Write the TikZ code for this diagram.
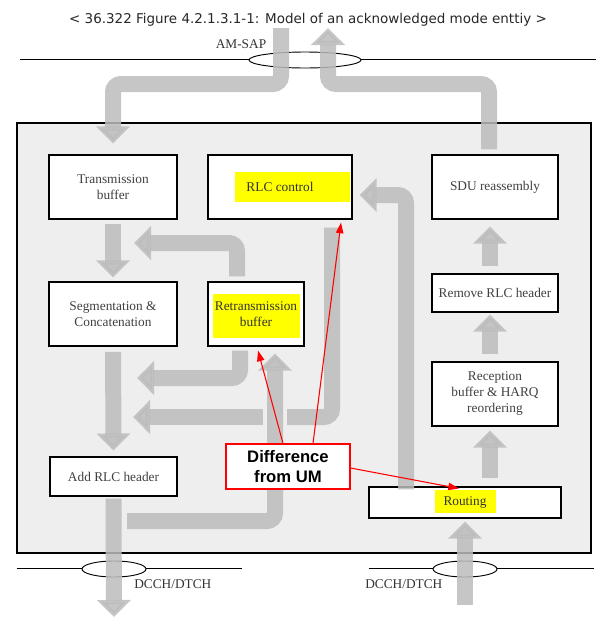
\documentclass[tikz,border=0pt]{standalone}
\usepackage{fontspec}
\setmainfont{Liberation Serif}
\newfontfamily\titlefont{DejaVu Sans}
\newfontfamily\notefont{Liberation Sans}
\usetikzlibrary{arrows.meta,calc,positioning}
\definecolor{framefill}{HTML}{EEEEEE}
\definecolor{arrowgray}{HTML}{BCBCBC}
\definecolor{hilite}{HTML}{FFFF00}
\tikzset{
  box/.style={draw, fill=white, line width=0.8pt, inner sep=0pt, align=center,
    font=\fontsize{10}{12}\selectfont, text=black!75},
  boxtext/.style={inner sep=0pt, align=center, font=\fontsize{10}{12}\selectfont, text=black!80},
  bigband/.style={draw=arrowgray, line width=12pt, opacity=0.85, rounded corners=6pt},
  bigarrow/.style={bigband, -{Triangle[length=12.75pt,width=24.75pt]}},
  note/.style={red, line width=0.8pt, -{Triangle[length=8pt,width=5.5pt]}},
  sap/.style={line width=0.7pt},
}

\begin{document}
\begin{tikzpicture}[x=0.75pt,y=-0.75pt]
    \useasboundingbox (0,0) rectangle (607,625);

    % Title
    \node[font=\titlefont\fontsize{10.1}{12}\selectfont, text=black!85] (title) at (308,20)
        {< 36.322 Figure 4.2.1.3.1-1: Model of an acknowledged mode enttiy >};

    % Service access points
    \draw[sap] (20,59) -- (249,59) (361,59) -- (596,59);
    \draw[sap] (305,60) ellipse [x radius=56, y radius=8];
    \draw[sap] (17,568) -- (82,568) (146,568) -- (242,568);
    \draw[sap] (114,569) ellipse [x radius=32, y radius=8];
    \draw[sap] (369,568) -- (433,568) (497,568) -- (594,568);
    \draw[sap] (465,569) ellipse [x radius=32, y radius=8];
    \node[boxtext] (amsap) at (241,44) {AM-SAP};
    \node[boxtext, anchor=west] (dcchl) at (134,584) {DCCH/DTCH};
    \node[boxtext, anchor=west] (dcchr) at (365,584) {DCCH/DTCH};

    % Entity
    \draw[fill=framefill, line width=0.8pt] (17,123) rectangle (591,553);

    % Transmitting side
    \node[box, minimum width=96pt, minimum height=48pt] (tx) at (113,187) {Transmission\\buffer};
    \node[box, minimum width=108pt, minimum height=48pt] (rlc) at (280,187) {};
    \node[box, minimum width=96pt, minimum height=48pt] (seg) at (113,314) {Segmentation \&\\Concatenation};
    \node[box, minimum width=72pt, minimum height=48pt] (retx) at (256,314) {};
    \node[box, minimum width=95.25pt, minimum height=29.25pt] (add) at (113.5,476.5) {Add RLC header};

    % Receiving side
    \node[box, minimum width=94.5pt, minimum height=48pt] (sdu) at (495,187) {SDU reassembly};
    \node[box, minimum width=94.5pt, minimum height=28.5pt] (rem) at (495,293) {Remove RLC header};
    \node[box, minimum width=94.5pt, minimum height=48pt] (recv) at (495,394) {Reception\\buffer \& HARQ\\reordering};
    \node[box, minimum width=144pt, minimum height=23.25pt] (route) at (465,502.5) {};

    % Highlights
    \fill[hilite] (235,172) rectangle (350,202);
    \fill[hilite] (213,294) rectangle (300,338);
    \fill[hilite] (435,490) rectangle (496,513);
    \node[boxtext] (rlctext) at (rlc) {RLC control};
    \node[boxtext] (retxtext) at (retx) {Retransmission\\buffer};
    \node[boxtext] (routetext) at (route) {Routing};

    % Free ends
    \coordinate (sapdown) at (281,28);
    \coordinate (sapup) at (328,28);
    \coordinate (chout) at (114,617);
    \coordinate (chin) at (465,605);

    % Data flow
    \draw[bigarrow] (sapdown) -- (281,84) -| ($(tx.north)+(0,-11)$);
    \draw[bigarrow] ($(sdu.north)+(-6,-5)$) -- (489,84) -| (sapup);
    \draw[bigarrow, shorten <=3pt, shorten >=3pt] (tx) -- (seg);
    \draw[bigarrow, shorten <=4pt, shorten >=4.5pt] (seg) -- (add);
    \draw[bigarrow] ($(add.south)+(0,2)$) -- (chout);
    \draw[bigarrow] ($(retx.north)+(-19,-5)$) |- (134,243);
    \draw[bigarrow] ($(retx.south)+(-16,4)$) |- (137,378);
    \draw[bigband] ($(rlc.south)+(52,8)$) |- (287,417);
    \draw[bigarrow] (263,417) -- (133,417);
    \draw[bigarrow] (127,521) -| ($(retx.south)+(19,7)$);
    \draw[bigarrow] ($(route.north)+(-59,3)$) |- ($(rlc.east)+(7,8)$);
    \draw[bigarrow] (chin) -- ($(route.south)+(0,3)$);
    \draw[bigarrow] ($(recv.south)+(-5,51)$) -- ($(recv.south)+(-5,4)$);
    \draw[bigarrow] ($(recv.north)+(-5,-7)$) -- ($(rem.south)+(-5,2)$);
    \draw[bigarrow] ($(rem.north)+(-5,-7)$) -- ($(sdu.south)+(-5,7)$);

    % Difference from UM
    \node[draw=red, fill=white, line width=0.8pt, minimum width=93pt, minimum height=33.75pt,
        align=center, font=\notefont\bfseries\fontsize{12.5}{14.5}\selectfont] (diff) at (288,466.5)
        {Difference\\from UM};
    \draw[note] ($(diff.north)+(-5,0)$) -- ($(retx.south)+(2,4)$);
    \draw[note] ($(diff.north)+(25,0)$) -- ($(rlc.south)+(61,3)$);
    \draw[note] ($(diff.east)+(0,1.5)$) -- ($(route.north)+(-6,2)$);
\end{tikzpicture}
\end{document}
